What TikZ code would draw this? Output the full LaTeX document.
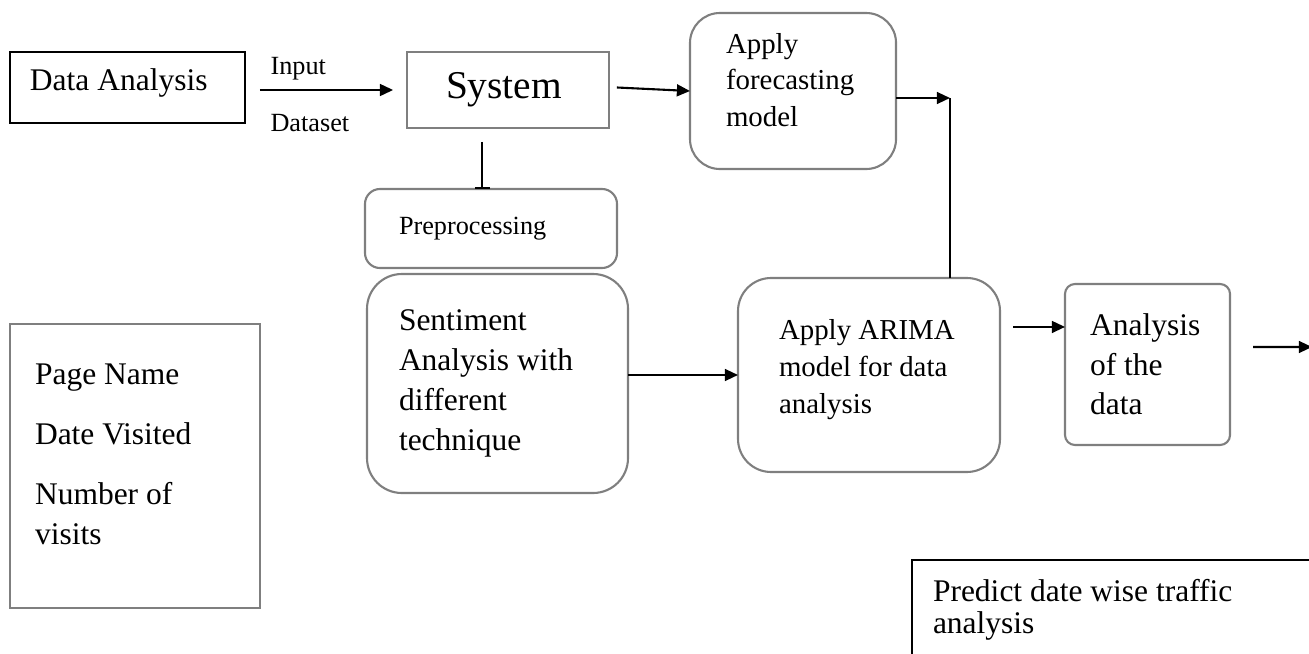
\documentclass[tikz,border=0pt]{standalone}
\usepackage{fontspec}
\setmainfont{Liberation Serif}
\usetikzlibrary{positioning}
\usetikzlibrary{arrows.meta}
\definecolor{boxgray}{HTML}{7F7F7F}
\newcommand{\depthpad}[1]{\rule[-#1]{0pt}{0pt}}

\begin{document}
\begin{tikzpicture}[x=0.381pt, y=-0.381pt,
        grayframe/.style={draw=boxgray, line width=0.8pt, anchor=north west,
            align=flush left, inner ysep=0pt, outer sep=0pt},
        blackframe/.style={grayframe, draw=black},
        flow/.style={line width=0.8pt, -{Triangle[length=5pt, width=4.5pt]}},
        wire/.style={line width=0.8pt},
        ften/.style={font=\fontsize{10}{12}\selectfont},
        ftwelve/.style={font=\fontsize{12}{15.2}\selectfont}]
        \useasboundingbox (0,0) rectangle (1309,654);
        \clip (0,0) rectangle (1309,654);

        % boxes
        \node[blackframe, ftwelve, minimum width=89.54pt, minimum height=27.05pt,
            inner xsep=7.62pt, text width=74.3pt] (data) at (10,52)
            {Data Analysis\depthpad{6.2pt}};
        \node[grayframe, font=\fontsize{15}{18}\selectfont, minimum width=76.96pt,
            minimum height=28.96pt, inner xsep=14.86pt, text width=47.24pt]
            (system) at (407,52) {System};
        \node[grayframe, rounded corners=11.4pt, font=\fontsize{11}{13.9}\selectfont,
            minimum width=78.49pt, minimum height=59.44pt, inner xsep=13.72pt,
            text width=51.05pt] (forecast) at (690,13)
            {Apply\\ forecasting\\ model\depthpad{8.4pt}};
        \node[grayframe, rounded corners=5.7pt, ften, minimum width=96.01pt,
            minimum height=30.1pt, inner xsep=12.95pt, text width=70.1pt]
            (preproc) at (365,189) {Preprocessing};
        \node[grayframe, rounded corners=13.3pt, ftwelve, minimum width=99.44pt,
            minimum height=83.44pt, inner xsep=12.19pt, text width=75.06pt]
            (sentiment) at (367,274)
            {Sentiment\\ Analysis with\\ different\\ technique};
        \node[grayframe, rounded corners=12.6pt, font=\fontsize{11}{14.1}\selectfont,
            minimum width=99.82pt, minimum height=73.91pt, inner xsep=15.62pt,
            text width=68.58pt] (arima) at (738,278)
            {Apply ARIMA\\ model for data\\ analysis\depthpad{6.6pt}};
        \node[grayframe, rounded corners=3.8pt, font=\fontsize{12}{15}\selectfont,
            minimum width=62.87pt, minimum height=61.34pt, inner xsep=9.53pt,
            text width=43.8pt] (analysis) at (1065,284)
            {Analysis\\ of the\\ data};
        \node[grayframe, ftwelve, minimum width=95.25pt, minimum height=108.2pt,
            inner xsep=9.53pt, text width=76.2pt] (page) at (10,324)
            {Page Name\\[7.6pt] Date Visited\\[7.6pt] Number of\\ visits\depthpad{8.8pt}};
        \node[blackframe, font=\fontsize{12}{12.2}\selectfont, minimum width=160pt,
            minimum height=37.72pt, inner xsep=8pt, text width=144pt]
            (predict) at (912,560) {Predict date wise traffic\\ analysis};

        % labels of the input arrow
        \node[ften, inner sep=0pt, anchor=base west] (inputlbl) at (270,75) {Input};
        \node[ften, inner sep=0pt, anchor=base west] (datasetlbl) at (270,132) {Dataset};

        % connectors
        \coordinate (sysfoot) at ([xshift=-9.9pt, yshift=-5.3pt]system.south);
        \coordinate (bend) at (950,98);
        \coordinate (arimaout) at ([xshift=4.95pt, yshift=18.3pt]arima.east);
        \coordinate (outtip) at (1312,347);
        \draw[flow, shorten <=5.7pt, shorten >=5.3pt] (data.east |- system.west) -- (system.west);
        \draw[flow, shorten <=3pt] ([yshift=1.1pt]system.east) -- (forecast.west);
        \draw[wire, -{Bar[width=5.7pt]}] (sysfoot) -- (sysfoot |- preproc.north);
        \draw[flow] (sentiment.east |- arima.west) -- (arima.west);
        \draw[flow] (arimaout) -- (arimaout -| analysis.west);
        \draw[flow] ([xshift=8.76pt, yshift=6.67pt]analysis.east) -- (outtip);
        \draw[wire] (arima.north -| bend) -- (bend);
        \draw[flow] (forecast.east |- bend) -- (bend);
\end{tikzpicture}
\end{document}
